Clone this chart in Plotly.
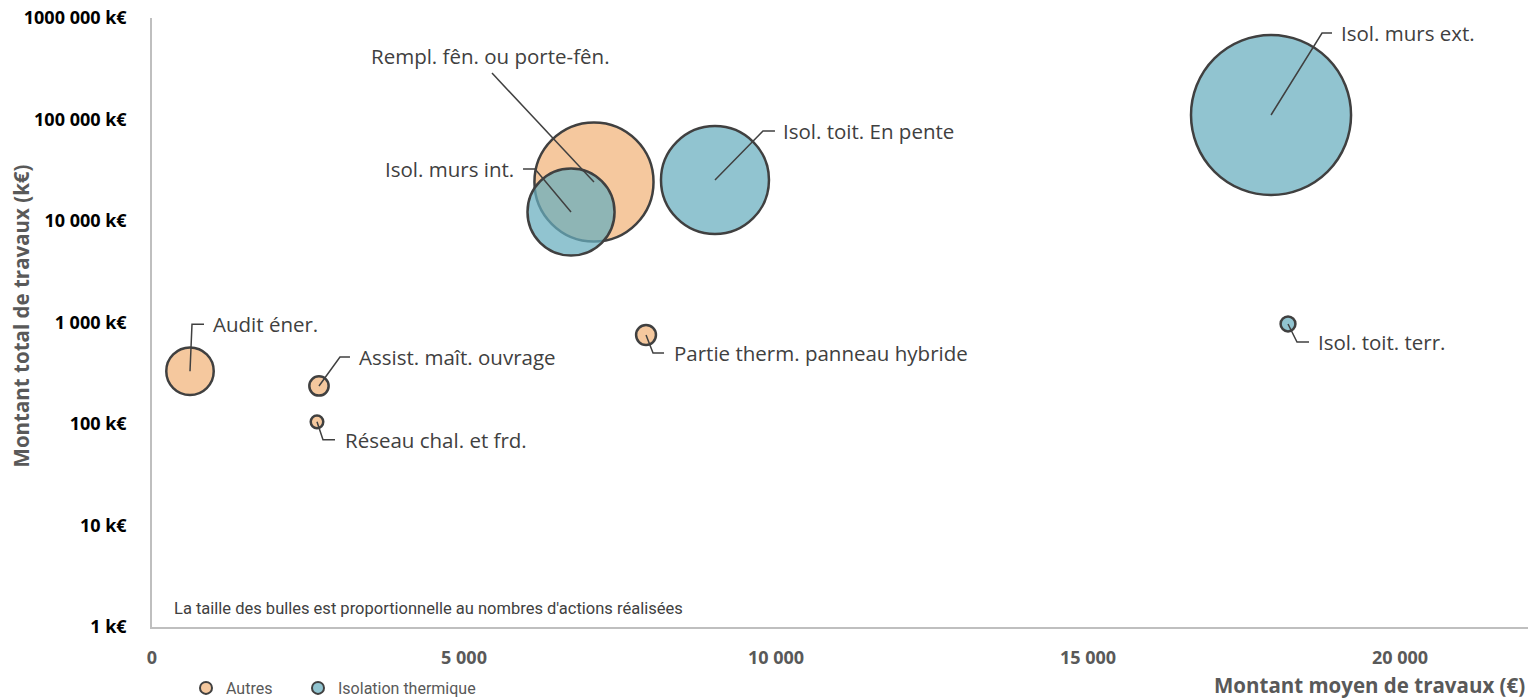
import numpy as np
import plotly.graph_objects as go

# ---- data ----
autres_labels = ["Audit éner.", "Assist. maît. ouvrage", "Réseau chal. et frd.",
                 "Partie therm. panneau hybride", "Rempl. fên. ou porte-fên."]
autres_mean = [609, 2676, 2644, 7917, 7083]          # € (montant moyen)
autres_total = [331, 237, 105, 753, 24200]           # k€ (montant total)
autres_actions = [543, 90, 38, 95, 3417]             # nombre d'actions

iso_labels = ["Isol. murs ext.", "Isol. toit. En pente", "Isol. murs int.", "Isol. toit. terr."]
iso_mean = [17933, 9022, 6715, 18205]
iso_total = [110700, 25350, 12270, 967]
iso_actions = [6173, 2810, 1827, 53]

y_tickvals = [1, 10, 100, 1000, 10000, 100000, 1000000]
y_ticktext = ["1 k€", "10 k€", "100 k€", "1 000 k€", "10 000 k€", "100 000 k€", "1000 000 k€"]
x_tickvals = [0, 5000, 10000, 15000, 20000]
x_ticktext = ["0", "5 000", "10 000", "15 000", "20 000"]

# ---- styles ----
ORANGE = "rgba(245,200,158,1)"
TEAL = "rgba(102,173,190,0.72)"
OUTLINE = "#404040"
FONT = "Open Sans"
SIZEREF = 0.482

# page body has an 8px margin: the figure is sized to fit the rest of the window
W, H = 1520, 692

# label layout: (elbow dx, dy), (end dx, dy), (text dx, dy), text xanchor, text yanchor  -- screen px, down positive
label_layout = {
    "Isol. murs ext.": ((51, -82), (61, -82), (68, -82), "left", "middle"),
    "Rempl. fên. ou porte-fên.": ((-102, -109), (-102, -109), (-103, -110), "center", "bottom"),
    "Isol. murs int.": ((-36, -43), (-48, -43), (-55, -43), "right", "middle"),
    "Isol. toit. En pente": ((48, -49), (60, -49), (66, -49), "left", "middle"),
    "Audit éner.": ((2, -47), (14, -47), (21, -47), "left", "middle"),
    "Assist. maît. ouvrage": ((21, -29), (31, -29), (38, -29), "left", "middle"),
    "Réseau chal. et frd.": ((6, 18), (18, 18), (26, 18), "left", "middle"),
    "Partie therm. panneau hybride": ((7, 18), (18, 18), (26, 18), "left", "middle"),
    "Isol. toit. terr.": ((9, 18), (21, 18), (28, 18), "left", "middle"),
}

fig = go.Figure()
fig.add_trace(go.Scatter(
    x=autres_mean, y=autres_total, mode="markers", name="Autres", legend="legend",
    text=autres_labels,
    marker=dict(size=autres_actions, sizemode="area", sizeref=SIZEREF, color=ORANGE, opacity=1,
                line=dict(color=OUTLINE, width=2.5)),
))
fig.add_trace(go.Scatter(
    x=iso_mean, y=iso_total, mode="markers", name="Isolation thermique", legend="legend2",
    text=iso_labels,
    marker=dict(size=iso_actions, sizemode="area", sizeref=SIZEREF, color=TEAL, opacity=1,
                line=dict(color=OUTLINE, width=2.5)),
))

shapes = []
annotations = []
for labels, xs, ys in [(autres_labels, autres_mean, autres_total), (iso_labels, iso_mean, iso_total)]:
    for lab, xv, yv in zip(labels, xs, ys):
        (ex, ey), (nx, ny), (tx, ty), xa, ya = label_layout[lab]
        path = f"M0,0 L{ex},{-ey} L{nx},{-ny}"
        shapes.append(dict(type="path", xref="x", yref="y", xsizemode="pixel", ysizemode="pixel",
                           xanchor=xv, yanchor=yv, path=path,
                           line=dict(color=OUTLINE, width=1.5), layer="above"))
        annotations.append(dict(x=xv, y=np.log10(yv), xref="x", yref="y", text=lab, showarrow=False,
                                xshift=tx, yshift=-ty, xanchor=xa, yanchor=ya,
                                font=dict(family=FONT, size=20.5, color="#404040")))

annotations.append(dict(x=1, y=-0.1, xref="paper", yref="paper", xanchor="right", yanchor="middle",
                        xshift=-1, yshift=3,
                        text="<b>Montant moyen de travaux (€)</b>", showarrow=False,
                        font=dict(family=FONT, size=20.5, color="#595959")))
annotations.append(dict(x=-131 / 1376, y=0.51, xref="paper", yref="paper", xanchor="center", yanchor="middle",
                        text="<b>Montant total de travaux (k€)</b>", showarrow=False, textangle=-90,
                        font=dict(family=FONT, size=20.5, color="#595959")))
annotations.append(dict(x=0.0145, y=0.03, xref="paper", yref="paper", xanchor="left", yanchor="middle",
                        text="La taille des bulles est proportionnelle au nombres d'actions réalisées",
                        showarrow=False, font=dict(family="Roboto", size=16.5, color="#404040")))

legend_font = dict(family="Roboto", size=16, color="#595959")
fig.update_layout(
    width=W, height=H,
    margin=dict(l=144, r=0, t=10, b=73, autoexpand=False),
    plot_bgcolor="white", paper_bgcolor="white",
    showlegend=True,
    legend=dict(orientation="h", xref="container", yref="container",
                x=178 / W, y=12 / H, xanchor="left", yanchor="middle",
                itemsizing="constant", font=legend_font),
    legend2=dict(orientation="h", xref="container", yref="container",
                 x=290 / W, y=12 / H, xanchor="left", yanchor="middle",
                 itemsizing="constant", font=legend_font),
    xaxis=dict(range=[0, 22051], showgrid=False, zeroline=False, showline=True, automargin=False,
               linecolor="#BFBFBF", linewidth=1.5, ticks="",
               tickvals=x_tickvals, ticktext=x_ticktext, ticklabelstandoff=14,
               ticklabeloverflow="allow",
               tickfont=dict(family=FONT, size=18, color="#595959", weight="bold")),
    yaxis=dict(type="log", range=[0, 6], showgrid=False, zeroline=False, showline=True, automargin=False,
               linecolor="#BFBFBF", linewidth=1.5, ticks="",
               tickvals=y_tickvals, ticktext=y_ticktext, ticklabelstandoff=20,
               ticklabeloverflow="allow",
               tickfont=dict(family=FONT, size=18, color="#000000", weight="bold")),
    shapes=shapes,
    annotations=annotations,
)

fig.write_html("out.html")
